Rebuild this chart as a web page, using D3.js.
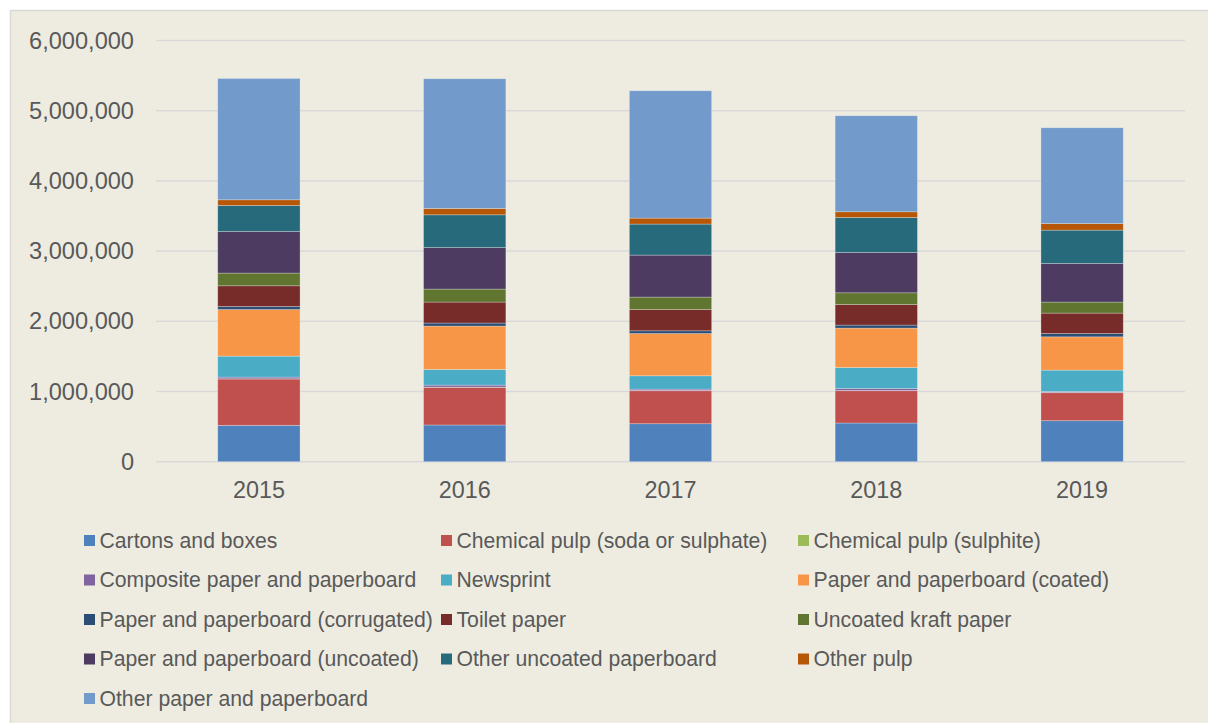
<!DOCTYPE html>
<html>
<head>
<meta charset="utf-8">
<script src="https://cdn.jsdelivr.net/npm/d3@7"></script>
<style>
	body { margin: 0; background: #ffffff; }
	svg text { font-family: "Liberation Sans", Arial, sans-serif; fill: #595959; }
</style>
</head>
<body>
<div id="chart"></div>
<script>
var width = 1208;
var height = 723;

var years = ["2015", "2016", "2017", "2018", "2019"];

// tonnes per year
var cartonsBoxes = [518000, 523000, 541000, 551000, 584000];
var chemPulpSulphate = [660000, 537000, 470000, 460000, 399000];
var chemPulpSulphite = [3000, 3000, 3000, 3000, 3000];
var compositePaper = [24000, 28000, 20000, 29000, 14000];
var newsprint = [299000, 223000, 190000, 299000, 305000];
var paperCoated = [664000, 618000, 602000, 561000, 474000];
var paperCorrugated = [43000, 43000, 39000, 43000, 47000];
var toiletPaper = [295000, 299000, 303000, 294000, 291000];
var uncoatedKraft = [181000, 185000, 177000, 166000, 157000];
var paperUncoated = [592000, 592000, 598000, 574000, 550000];
var otherUncoatedBoard = [371000, 466000, 442000, 499000, 475000];
var otherPulp = [81000, 90000, 85000, 81000, 94000];
var otherPaper = [1728000, 1848000, 1814000, 1368000, 1364000];

var seriesNames = [
	"Cartons and boxes",
	"Chemical pulp (soda or sulphate)",
	"Chemical pulp (sulphite)",
	"Composite paper and paperboard",
	"Newsprint",
	"Paper and paperboard (coated)",
	"Paper and paperboard (corrugated)",
	"Toilet paper",
	"Uncoated kraft paper",
	"Paper and paperboard (uncoated)",
	"Other uncoated paperboard",
	"Other pulp",
	"Other paper and paperboard"
];
var seriesValues = [cartonsBoxes, chemPulpSulphate, chemPulpSulphite, compositePaper, newsprint,
	paperCoated, paperCorrugated, toiletPaper, uncoatedKraft, paperUncoated,
	otherUncoatedBoard, otherPulp, otherPaper];
var seriesColors = ["#4F81BD", "#C0504D", "#9BBB59", "#8064A2", "#4BACC6", "#F79646",
	"#2C4D75", "#772C2A", "#5F7530", "#4D3B62", "#276A7C", "#B65708", "#729ACA"];

var yTicks = [0, 1000000, 2000000, 3000000, 4000000, 5000000, 6000000];

// build rows for d3.stack
var rows = years.map(function (y, i) {
	var row = { year: y };
	seriesNames.forEach(function (name, j) {
		row[name] = seriesValues[j][i];
	});
	return row;
});

var stacked = d3.stack().keys(seriesNames)(rows);

var svg = d3.select("#chart")
	.append("svg")
	.attr("width", width)
	.attr("height", height);

// chart area
svg.append("rect")
	.attr("x", 10.5)
	.attr("y", 10.5)
	.attr("width", width + 20)
	.attr("height", height + 20)
	.attr("fill", "#EEECE1")
	.attr("stroke", "#D9D9D9")
	.attr("stroke-width", 1.5);

var xScale = d3.scaleBand().domain(years).range([156, 1185]).paddingInner(0.6).paddingOuter(0.3);
var yScale = d3.scaleLinear().domain([0, 6000000]).range([461.7, 40.5]);

// gridlines
svg.append("g")
	.selectAll("line")
	.data(yTicks)
	.enter()
	.append("line")
	.attr("x1", 156)
	.attr("x2", 1185)
	.attr("y1", function (d) { return yScale(d); })
	.attr("y2", function (d) { return yScale(d); })
	.attr("stroke", "#D9D9D9")
	.attr("stroke-width", 1.5);

var yAxis = d3.axisLeft(yScale)
	.tickValues(yTicks)
	.tickFormat(d3.format(","))
	.tickSize(0)
	.tickPadding(22);

svg.append("g")
	.attr("transform", "translate(156,0)")
	.call(yAxis)
	.call(function (g) { g.select(".domain").remove(); })
	.selectAll("text")
	.style("font-size", "23.6px")
	.attr("fill", "#595959");

var xAxis = d3.axisBottom(xScale).tickSize(0).tickPadding(20);

svg.append("g")
	.attr("transform", "translate(0,461.7)")
	.call(xAxis)
	.call(function (g) { g.select(".domain").remove(); })
	.selectAll("text")
	.style("font-size", "23.4px")
	.attr("fill", "#595959");

// stacked bars
var layers = svg.append("g")
	.selectAll("g")
	.data(stacked)
	.enter()
	.append("g")
	.attr("fill", function (d, i) { return seriesColors[i]; });

layers.selectAll("rect")
	.data(function (d) { return d; })
	.enter()
	.append("rect")
	.attr("x", function (d) { return xScale(d.data.year); })
	.attr("width", xScale.bandwidth())
	.attr("y", function (d) { return yScale(d[1]); })
	.attr("height", function (d) { return yScale(d[0]) - yScale(d[1]); })
	.attr("stroke", "#ffffff")
	.attr("stroke-opacity", 0.35)
	.attr("stroke-width", 0.75);

// legend, 3 columns
var legend = svg.append("g")
	.selectAll("g")
	.data(seriesNames)
	.enter()
	.append("g")
	.attr("transform", function (d, i) {
		var col = i % 3;
		var row = Math.floor(i / 3);
		return "translate(" + (84 + col * 357) + "," + (540.5 + row * 39.5) + ")";
	});

legend.append("rect")
	.attr("x", 0)
	.attr("y", -5.5)
	.attr("width", 11)
	.attr("height", 11)
	.attr("fill", function (d, i) { return seriesColors[i]; });

legend.append("text")
	.attr("x", 15.5)
	.attr("y", 0)
	.attr("dy", "0.35em")
	.style("font-size", "21.2px")
	.text(function (d) { return d; });
</script>
</body>
</html>
